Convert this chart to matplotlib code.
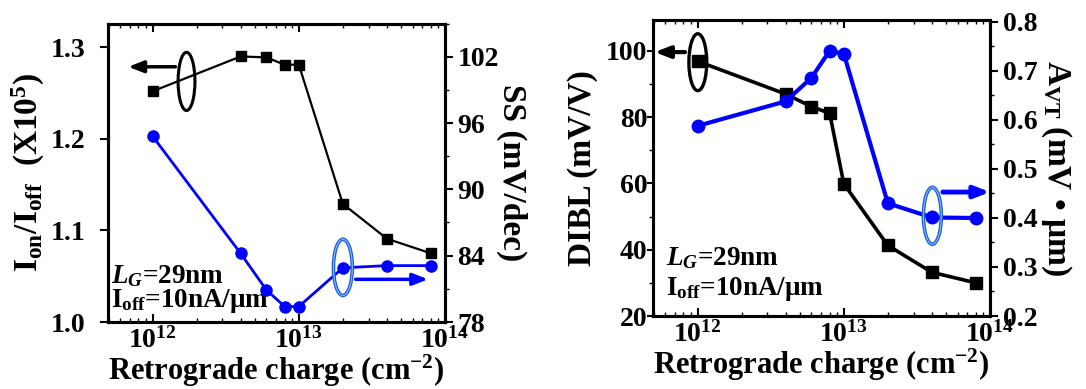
import numpy as np
import matplotlib
matplotlib.use("Agg")
import matplotlib.pyplot as plt
from matplotlib.patches import Ellipse
from matplotlib.ticker import LogLocator, MultipleLocator, NullFormatter, FixedLocator

# --- Data ---
charge = [1e12, 4e12, 6e12, 8e12, 1e13, 2e13, 4e13, 8e13]   # cm^-2
on_off = [1.252, 1.290, 1.289, 1.281, 1.281, 1.129, 1.091, 1.075]  # x1e5
ss = [94.8, 84.2, 80.9, 79.4, 79.4, 82.9, 83.1, 83.1]        # mV/dec
dibl = [96.9, 87.0, 83.2, 81.2, 59.9, 41.3, 33.2, 30.0]      # mV/V
avt = [0.588, 0.638, 0.686, 0.741, 0.735, 0.430, 0.401, 0.400]  # mV*um

x_ticks = [1e12, 1e13, 1e14]
x_ticklabels = ["10$^{12}$", "10$^{13}$", "10$^{14}$"]
onoff_ticks = [1.0, 1.1, 1.2, 1.3]
ss_ticks = [78, 84, 90, 96, 102]
dibl_ticks = [20, 40, 60, 80, 100]
avt_ticks = [0.2, 0.3, 0.4, 0.5, 0.6, 0.7, 0.8]

# --- Style ---
plt.rcParams["font.family"] = ["Liberation Serif", "DejaVu Serif"]
plt.rcParams["font.weight"] = "bold"
plt.rcParams["mathtext.fontset"] = "custom"
plt.rcParams["mathtext.rm"] = "Liberation Serif:bold"
plt.rcParams["mathtext.it"] = "Liberation Serif:bold:italic"
plt.rcParams["mathtext.bf"] = "Liberation Serif:bold"
plt.rcParams["mathtext.default"] = "regular"

TICK_FS = 20
LABEL_FS = 24
XLABEL_FS = 22
NOTE_FS = 19.5
BLUE = "#0000ff"
SPINE_W = 2.2


def style_x(ax):
    ax.set_xscale("log")
    ax.set_xlim(4.95e11, 1e14)
    ax.xaxis.set_major_locator(FixedLocator(x_ticks))
    ax.set_xticklabels(x_ticklabels)
    ax.xaxis.set_minor_locator(LogLocator(base=10, subs=np.arange(2, 10)))
    ax.xaxis.set_minor_formatter(NullFormatter())
    ax.tick_params(axis="x", which="both", direction="in", top=True,
                   labelsize=TICK_FS, pad=4)
    ax.tick_params(axis="x", which="major", length=6, width=1.5)
    ax.tick_params(axis="x", which="minor", length=3, width=1.0)
    ax.set_xlabel("Retrograde charge (cm$^{-2}$)", fontsize=XLABEL_FS,
                  fontweight="bold", labelpad=-1)
    for s in ax.spines.values():
        s.set_linewidth(SPINE_W)


def style_y(ax, major_ticks, minor_step=None, pad=3, length=6):
    ax.yaxis.set_major_locator(FixedLocator(major_ticks))
    if minor_step:
        ax.yaxis.set_minor_locator(MultipleLocator(minor_step))
    ax.tick_params(axis="y", which="both", direction="out", labelsize=TICK_FS, pad=pad)
    ax.tick_params(axis="y", which="major", length=length, width=1.5)
    ax.tick_params(axis="y", which="minor", length=3, width=1.0)


def ellipse(ax, xy, w, h, color, lw):
    ax.add_patch(Ellipse(xy, w, h, transform=ax.transAxes, fill=False,
                         edgecolor=color, linewidth=lw, zorder=6, clip_on=False))


def arrow(ax, start, end, color, lw):
    ax.annotate("", xy=end, xytext=start, xycoords="axes fraction",
                textcoords="axes fraction", annotation_clip=False,
                arrowprops=dict(arrowstyle="-|>,head_length=0.9,head_width=0.35",
                                color=color, lw=lw, shrinkA=0, shrinkB=0))


fig = plt.figure(figsize=(10.86, 3.89), dpi=100)

# --- Left panel: Ion/Ioff and SS ---
ax1 = fig.add_axes([108 / 1086, 67 / 389, 337 / 1086, 298.5 / 389])
ax1.plot(charge, on_off, color="black", lw=1.6, marker="s", ms=7, zorder=4)
ax1.set_ylim(1.0, 1.326)
style_x(ax1)
style_y(ax1, onoff_ticks, pad=10)
ax1.set_yticklabels([f"{v:.1f}" for v in onoff_ticks])
ax1.set_ylabel("I$_{on}$/I$_{off}$  (X10$^5$)", fontsize=LABEL_FS,
               fontweight="bold", labelpad=3)

ax1r = ax1.twinx()
ax1r.plot(charge, ss, color=BLUE, lw=2.0, marker="o", ms=8, zorder=4)
ax1r.set_ylim(78, 105)
style_y(ax1r, ss_ticks, 3)
ax1r.set_ylabel("SS (mV/dec)", fontsize=LABEL_FS, fontweight="bold",
                rotation=270, labelpad=20)
for s in ax1r.spines.values():
    s.set_linewidth(SPINE_W)

ax1.text(0.01, 0.13, "$\\mathit{L_G}$=29nm", transform=ax1.transAxes,
         fontsize=NOTE_FS, fontweight="bold", zorder=7)
ax1.text(0.01, 0.05, "I$_{off}$=10nA/μm", transform=ax1.transAxes,
         fontsize=NOTE_FS, fontweight="bold", zorder=7)

ellipse(ax1r, (0.233, 0.806), 0.05, 0.195, "black", 2.2)
arrow(ax1r, (0.20, 0.855), (0.06, 0.855), "black", 2.5)
ellipse(ax1r, (0.697, 0.183), 0.056, 0.188, "#1f5fd6", 2.6)
ellipse(ax1r, (0.697, 0.183), 0.056, 0.188, "#7fb8ff", 0.8)
arrow(ax1r, (0.735, 0.143), (0.95, 0.143), BLUE, 2.5)

# --- Right panel: DIBL and A_VT ---
ax2 = fig.add_axes([653 / 1086, 73 / 389, 337 / 1086, 296.5 / 389])
ax2.plot(charge, dibl, color="black", lw=2.6, marker="s", ms=9, zorder=4)
ax2.set_ylim(20, 109.5)
style_x(ax2)
style_y(ax2, dibl_ticks, 10, pad=0, length=4)
ax2.set_ylabel("DIBL (mV/V)", fontsize=LABEL_FS, fontweight="bold", labelpad=6)

ax2r = ax2.twinx()
ax2r.plot(charge, avt, color=BLUE, lw=3.0, marker="o", ms=9, zorder=4)
ax2r.set_ylim(0.2, 0.805)
style_y(ax2r, avt_ticks, 0.05)
ax2r.set_yticklabels([f"{v:.1f}" for v in avt_ticks])
ax2r.set_ylabel("A$_{VT}$ (mV • μm)", fontsize=LABEL_FS, fontweight="bold",
                rotation=270, labelpad=26)
for s in ax2r.spines.values():
    s.set_linewidth(SPINE_W)

ax2.text(0.04, 0.17, "$\\mathit{L_G}$=29nm", transform=ax2.transAxes,
         fontsize=NOTE_FS, fontweight="bold", zorder=7)
ax2.text(0.04, 0.07, "I$_{off}$=10nA/μm", transform=ax2.transAxes,
         fontsize=NOTE_FS, fontweight="bold", zorder=7)

ellipse(ax2r, (0.133, 0.856), 0.053, 0.192, "black", 2.4)
arrow(ax2r, (0.095, 0.89), (0.005, 0.89), "black", 3.0)
ellipse(ax2r, (0.829, 0.338), 0.053, 0.192, "#1f5fd6", 2.6)
ellipse(ax2r, (0.829, 0.338), 0.053, 0.192, "#7fb8ff", 0.8)
arrow(ax2r, (0.86, 0.418), (1.0, 0.418), BLUE, 3.5)

fig.savefig("out.png", dpi=100)
